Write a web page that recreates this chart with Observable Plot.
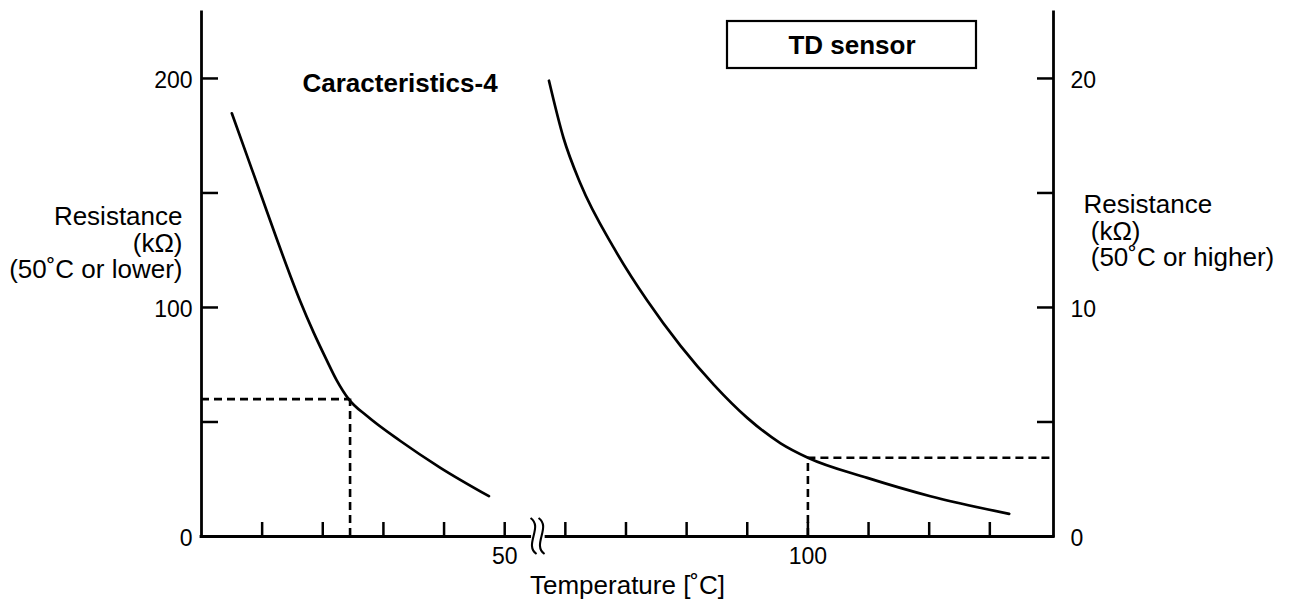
<!DOCTYPE html>
<html>
<head>
<meta charset="utf-8">
<script src="https://cdn.jsdelivr.net/npm/d3@7"></script>
<script src="https://cdn.jsdelivr.net/npm/@observablehq/plot@0.6"></script>
<style>
  html, body { margin: 0; padding: 0; background: #fff; }
  #chart svg { display: block; }
</style>
</head>
<body>
<div id="chart"></div>
<script>
// ---------------- Data ----------------
// Curve for 50°C or lower (left axis, kΩ)
const lowTemps      = [5.0, 7.5, 10.0, 12.4, 14.6, 16.3, 18.5, 20.7, 22.3, 24.3, 27.3, 32.8, 39.4, 47.4];
const lowResistance = [184.8, 166.3, 147.8, 130.0, 114.2, 102.6, 89.0, 76.7, 68.2, 59.9, 52.6, 41.7, 30.0, 17.6];
// Curve for 50°C or higher (right axis, kΩ)
const highTemps      = [57.3, 59.7, 62.5, 68.0, 73.5, 79.0, 84.5, 90.0, 95.5, 100, 109.8, 120.2, 133.2];
const highResistance = [19.9, 17.4, 15.4, 12.6, 10.3, 8.32, 6.62, 5.18, 4.07, 3.44, 2.56, 1.76, 0.99];
// Reference (dashed) points
const refTemps       = [24.5, 100];
const refResistance  = [60, 3.44];
const refSides       = ["left", "right"];
// Axes
const xTicks          = [10, 20, 30, 40, 50, 60, 70, 80, 90, 100, 110, 120, 130];
const xTickLabels     = [50, 100];
const leftTicks       = [50, 100, 150, 200];
const leftTickLabels  = [0, 100, 200];
const rightTicks      = [5, 10, 15, 20];
const rightTickLabels = [0, 10, 20];
const tempMax  = 140.5;   // right axis position (°C)
const leftMax  = 228.8;   // top of axes (left-axis kΩ)
const rightFactor = 10;   // left kΩ per right kΩ
const breakAt = 55.5;     // axis break between 50 and 60 °C
const breakGap = [54.2, 56.9];

// Texts
const titleText  = "Caracteristics-4";
const legendText = "TD sensor";
const xLabel     = "Temperature [˚C]";
const leftLabel  = "Resistance\n(kΩ)\n(50˚C or lower)";
const rightLabel = "Resistance\n\u00a0(kΩ)\n\u00a0(50˚C or higher)";

// ---------------- Build ----------------
const FONT = "'Liberation Sans', Arial, Helvetica, sans-serif";
const low  = lowTemps.map((t, i) => ({t, r: lowResistance[i]}));
const high = highTemps.map((t, i) => ({t, r: highResistance[i] * rightFactor}));
const refs = refTemps.map((t, i) => ({
  t,
  r: refSides[i] === "left" ? refResistance[i] : refResistance[i] * rightFactor,
  x1: refSides[i] === "left" ? 0 : refTemps[i],
  x2: refSides[i] === "left" ? refTemps[i] : tempMax
}));
const xAxisSegments = [{x1: 0, x2: breakGap[0]}, {x1: breakGap[1], x2: tempMax}];

const AX = 2.8, TK = 2.5, LN = 2.7, DL = 2.6;

const decorations = (index, scales, values, dims) => {
  const g = d3.create("svg:g").attr("fill", "none").attr("stroke", "#000");
  // axis break squiggles
  const bx = scales.x(breakAt), by = scales.y(0);
  for (const off of [-4, 4]) {
    const x = bx + off;
    g.append("path")
      .attr("stroke-width", 2.1)
      .attr("d", `M${x - 3},${by - 18} C${x + 10},${by - 9} ${x - 10},${by + 9} ${x + 3},${by + 18}`);
  }
  // legend box
  g.append("rect")
    .attr("x", 727).attr("y", 21).attr("width", 249).attr("height", 47)
    .attr("stroke-width", 2.2);
  return g.node();
};

const chart = Plot.plot({
  width: 1289,
  height: 599,
  marginTop: 12,
  marginBottom: 63,
  marginLeft: 201,
  marginRight: 236,
  style: {fontFamily: FONT, fontSize: "23px", color: "#000", background: "#fff", overflow: "visible"},
  x: {domain: [0, tempMax], axis: null},
  y: {domain: [0, leftMax], axis: null},
  marks: [
    // axis lines
    Plot.ruleX([0, tempMax], {stroke: "#000", strokeWidth: AX, strokeLinecap: "square"}),
    Plot.ruleY(xAxisSegments, {y: 0, x1: "x1", x2: "x2", stroke: "#000", strokeWidth: AX, strokeLinecap: "square"}),
    // inward ticks
    Plot.axisX({anchor: "top", frameAnchor: "bottom", ticks: xTicks, tickSize: 15, strokeWidth: TK, fill: "none", label: null}),
    Plot.axisY({anchor: "right", frameAnchor: "left", ticks: leftTicks, tickSize: 16, strokeWidth: TK, fill: "none", label: null}),
    Plot.axisY({anchor: "left", frameAnchor: "right", ticks: rightTicks.map(v => v * rightFactor), tickSize: 16, strokeWidth: TK, fill: "none", label: null}),
    // tick labels
    Plot.axisX({anchor: "bottom", ticks: xTickLabels, tickSize: 0, tickPadding: 11, fontSize: 23, label: null}),
    Plot.axisY({anchor: "left", ticks: leftTickLabels, tickSize: 0, tickPadding: 9, fontSize: 23, dy: 2, label: null}),
    Plot.axisY({anchor: "right", ticks: rightTickLabels.map(v => v * rightFactor), tickFormat: d => d / rightFactor, tickSize: 0, tickPadding: 17, fontSize: 23, dy: 2, label: null}),
    // dashed reference lines
    Plot.ruleY(refs, {y: "r", x1: "x1", x2: "x2", stroke: "#000", strokeWidth: DL, strokeDasharray: "8,5"}),
    Plot.ruleX(refs, {x: "t", y1: 0, y2: "r", stroke: "#000", strokeWidth: DL, strokeDasharray: "8,5"}),
    // curves
    Plot.line(low,  {x: "t", y: "r", curve: "monotone-x", stroke: "#000", strokeWidth: LN}),
    Plot.line(high, {x: "t", y: "r", curve: "monotone-x", stroke: "#000", strokeWidth: LN}),
    // decorations: axis break + legend box
    decorations,
    // texts
    Plot.text([legendText], {frameAnchor: "top-left", dx: 650.5, dy: 33, textAnchor: "middle", lineAnchor: "middle", fontSize: 26, fontWeight: "bold", fill: "#000"}),
    Plot.text([titleText], {frameAnchor: "top-left", dx: 101, dy: 61.5, textAnchor: "start", lineAnchor: "top", fontSize: 26, fontWeight: "bold", fill: "#000"}),
    Plot.text([xLabel], {frameAnchor: "bottom", dy: 39, textAnchor: "middle", lineAnchor: "top", fontSize: 26, fill: "#000"}),
    Plot.text([leftLabel], {frameAnchor: "top-left", dx: -19, dy: 194, textAnchor: "end", lineAnchor: "top", lineHeight: 1.02, fontSize: 26, fill: "#000"}),
    Plot.text([rightLabel], {frameAnchor: "top-right", dx: 30, dy: 182, textAnchor: "start", lineAnchor: "top", lineHeight: 1.02, fontSize: 26, fill: "#000"})
  ]
});

document.getElementById("chart").append(chart);
</script>
</body>
</html>
